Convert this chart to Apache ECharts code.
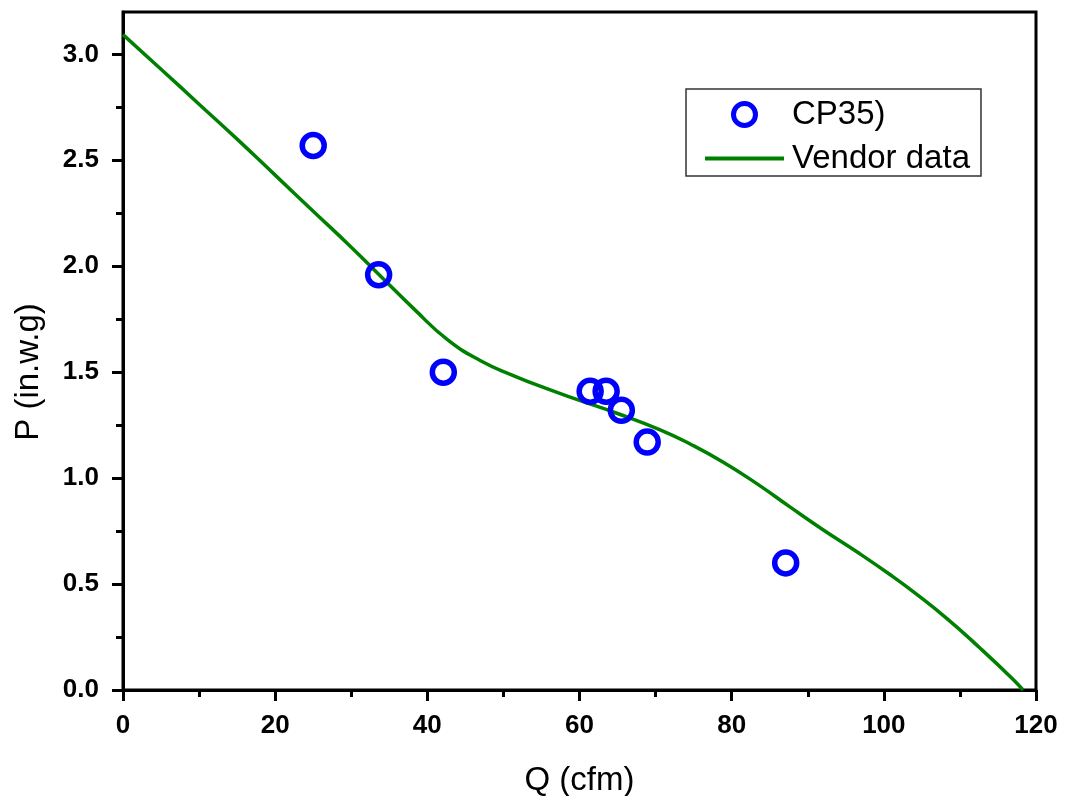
<!DOCTYPE html>
<html>
<head>
<meta charset="utf-8">
<script src="https://cdn.jsdelivr.net/npm/echarts@6/dist/echarts.min.js"></script>
<style>
  html, body { margin: 0; padding: 0; background: #fff; }
  #chart { width: 1065px; height: 796px; }
</style>
</head>
<body>
<div id="chart"></div>
<script>
// measured test points (CP35)
const testQ = [25.0, 33.6, 42.1, 61.4, 63.5, 65.5, 68.9, 87.1];
const testP = [2.57, 1.96, 1.50, 1.41, 1.41, 1.32, 1.17, 0.60];

// vendor fan curve
const vendorQ = [0, 5, 10, 15, 20, 25, 30, 33.8, 38.2, 42.6, 47, 51.3, 55.7, 60.1, 65, 70.6, 74.6, 78.9, 83.3, 87.7, 92.1, 96.5, 100.8, 103.9, 108.3, 112.7, 117, 118.3];
const vendorP = [3.093, 2.93, 2.765, 2.60, 2.43, 2.26, 2.09, 1.955, 1.80, 1.655, 1.554, 1.484, 1.422, 1.366, 1.305, 1.228, 1.160, 1.075, 0.974, 0.863, 0.754, 0.651, 0.545, 0.463, 0.337, 0.196, 0.05, 0];

// ticks
const xTicks = [0, 20, 40, 60, 80, 100, 120];
const xMinor = [10, 30, 50, 70, 90, 110];
const yTicks = [0, 0.5, 1.0, 1.5, 2.0, 2.5, 3.0];
const yMinor = [0.25, 0.75, 1.25, 1.75, 2.25, 2.75];

const seriesNames = ['CP35)', 'Vendor data'];

const font = '"Liberation Sans", Arial, sans-serif';
const ink = '#000';
const blue = '#0000ff';
const green = '#008000';

const chart = echarts.init(document.getElementById('chart'));

const baseAxis = {
  type: 'value',
  splitLine: { show: false },
  axisLine: { show: true, onZero: false, lineStyle: { color: ink, width: 3 } }
};

chart.setOption({
  backgroundColor: '#fff',
  animation: false,
  grid: {
    left: 123, right: 29, top: 12, bottom: 106,
    outerBoundsMode: 'none',
    containLabel: false,
    show: true, borderColor: ink, borderWidth: 3, backgroundColor: 'transparent'
  },
  legend: {
    orient: 'vertical',
    left: 686, top: 89,
    padding: [9, 11, 1, 17],
    itemWidth: 79, itemHeight: 22, itemGap: 11,
    borderColor: '#333', borderWidth: 1.5,
    textStyle: { fontFamily: font, fontSize: 33, color: ink, lineHeight: 28, padding: [0, 0, 0, 3] },
    data: [
      { name: seriesNames[0], icon: 'circle', itemStyle: { color: 'rgba(0,0,0,0)', borderColor: blue, borderWidth: 5, opacity: 1 } },
      { name: seriesNames[1], itemStyle: { opacity: 0 }, lineStyle: { color: green, width: 4 } }
    ]
  },
  xAxis: [
    Object.assign({}, baseAxis, {
      min: 0, max: 120, interval: 20,
      position: 'bottom',
      name: 'Q (cfm)', nameLocation: 'middle', nameGap: 74,
      nameTextStyle: { fontFamily: font, fontSize: 33, color: ink },
      axisTick: { show: true, inside: false, length: 11, lineStyle: { color: ink, width: 3 }, customValues: xTicks },
      axisLabel: { fontFamily: font, fontSize: 26, fontWeight: 'bold', color: ink, margin: 23, customValues: xTicks }
    }),
    {
      type: 'value', min: 0, max: 120, position: 'bottom',
      splitLine: { show: false }, axisLine: { show: false },
      axisLabel: { show: false },
      axisTick: { show: true, length: 7, lineStyle: { color: ink, width: 3 }, customValues: xMinor }
    }
  ],
  yAxis: [
    Object.assign({}, baseAxis, {
      min: 0, max: 3.2, interval: 0.5,
      position: 'left',
      name: 'P (in.w.g)', nameLocation: 'middle', nameGap: 78, nameRotate: 90,
      nameTextStyle: { fontFamily: font, fontSize: 33, color: ink, padding: [0, 42, 0, 0] },
      axisTick: { show: true, inside: false, length: 11, lineStyle: { color: ink, width: 3 }, customValues: yTicks },
      axisLabel: {
        fontFamily: font, fontSize: 26, fontWeight: 'bold', color: ink, margin: 24,
        customValues: yTicks,
        formatter: v => v.toFixed(1)
      }
    }),
    {
      type: 'value', min: 0, max: 3.2, position: 'left',
      splitLine: { show: false }, axisLine: { show: false },
      axisLabel: { show: false },
      axisTick: { show: true, length: 7, lineStyle: { color: ink, width: 3 }, customValues: yMinor }
    }
  ],
  series: [
    {
      name: seriesNames[0],
      type: 'scatter',
      xAxisIndex: 0, yAxisIndex: 0,
      z: 3,
      symbol: 'circle',
      symbolSize: 22,
      itemStyle: { color: 'rgba(0,0,0,0)', borderColor: blue, borderWidth: 5.5, opacity: 1 },
      data: testQ.map((q, i) => [q, testP[i]])
    },
    {
      name: seriesNames[1],
      type: 'line',
      xAxisIndex: 0, yAxisIndex: 0,
      z: 2,
      symbol: 'none',
      smooth: 0.5,
      color: green,
      lineStyle: { color: green, width: 3.5 },
      data: vendorQ.map((q, i) => [q, vendorP[i]])
    }
  ]
});
</script>
</body>
</html>
